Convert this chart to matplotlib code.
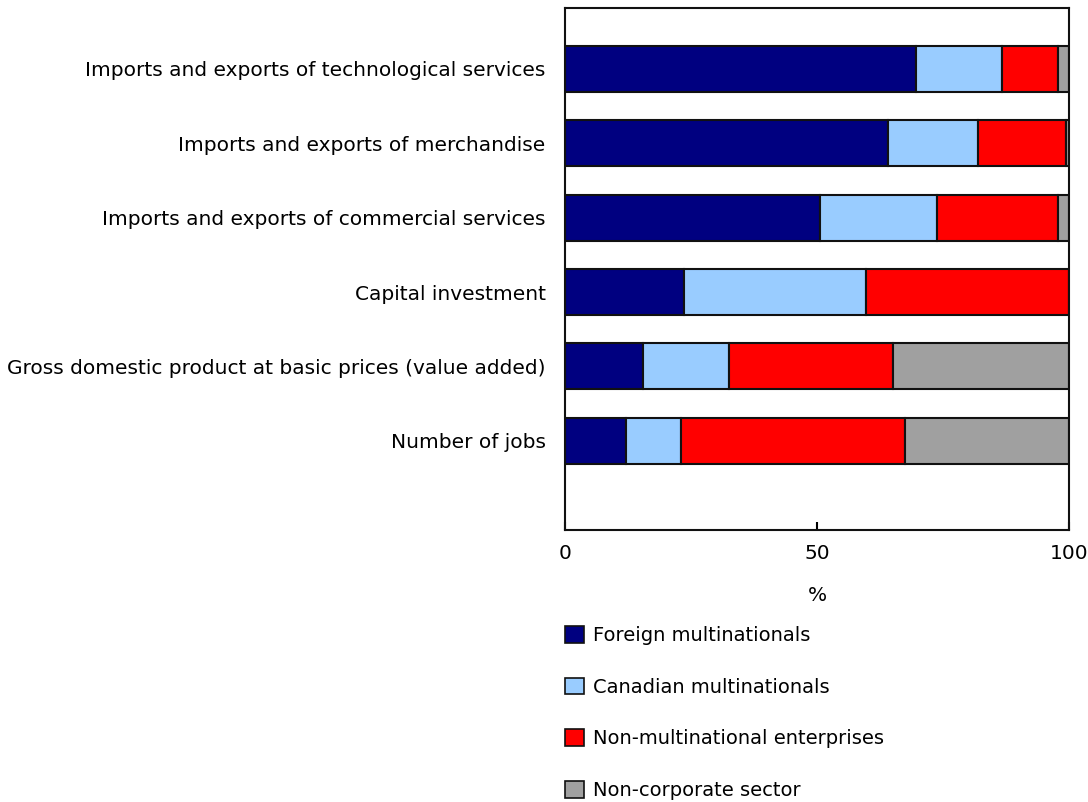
import matplotlib.pyplot as plt
from matplotlib.patches import Patch

# Share of each activity by type of enterprise (%)
categories = [
    "Imports and exports of technological services",
    "Imports and exports of merchandise",
    "Imports and exports of commercial services",
    "Capital investment",
    "Gross domestic product at basic prices (value added)",
    "Number of jobs",
]
foreign_mne = [69.6, 64.0, 50.6, 23.6, 15.4, 12.2]
canadian_mne = [17.1, 18.0, 23.3, 36.1, 17.1, 10.8]
non_mne = [11.2, 17.5, 24.0, 40.3, 32.6, 44.5]
non_corporate = [2.1, 0.5, 2.1, 0.0, 34.9, 32.5]

series = [foreign_mne, canadian_mne, non_mne, non_corporate]
series_names = ["Foreign multinationals", "Canadian multinationals",
                "Non-multinational enterprises", "Non-corporate sector"]
colors = ["#000080", "#99CCFF", "#FF0000", "#A0A0A0"]

plt.rcParams["font.family"] = "DejaVu Sans"
plt.rcParams["font.size"] = 14.5

fig = plt.figure(figsize=(10.88, 8.02), dpi=100)
ax = fig.add_axes([0.5193, 0.3392, 0.4632, 0.6508])

ypos = list(range(len(categories)))
left = [0.0] * len(categories)
for vals, col in zip(series, colors):
    ax.barh(ypos, vals, left=left, height=0.62, color=col,
            edgecolor="#111111", linewidth=1.5)
    left = [a + b for a, b in zip(left, vals)]

ax.set_xlim(0, 100)
ax.set_ylim(6.2, -0.82)
ax.set_yticks(ypos)
ax.set_yticklabels(categories)
ax.tick_params(axis="y", length=0, pad=14)
ax.set_xticks([0, 50, 100])
ax.tick_params(axis="x", direction="in", length=6, width=1.5, pad=10)
ax.set_xlabel("%", labelpad=17)
for s in ax.spines.values():
    s.set_linewidth(1.5)
    s.set_color("#111111")

handles = [Patch(facecolor=c, edgecolor="#111111", linewidth=1.2) for c in colors]
fig.legend(handles, series_names, loc="upper left",
           bbox_to_anchor=(0.5126, 0.229), frameon=False, fontsize=14,
           handlelength=0.95, handleheight=0.95, handletextpad=0.45,
           labelspacing=1.67, borderaxespad=0)

fig.savefig("out.png", dpi=100)
